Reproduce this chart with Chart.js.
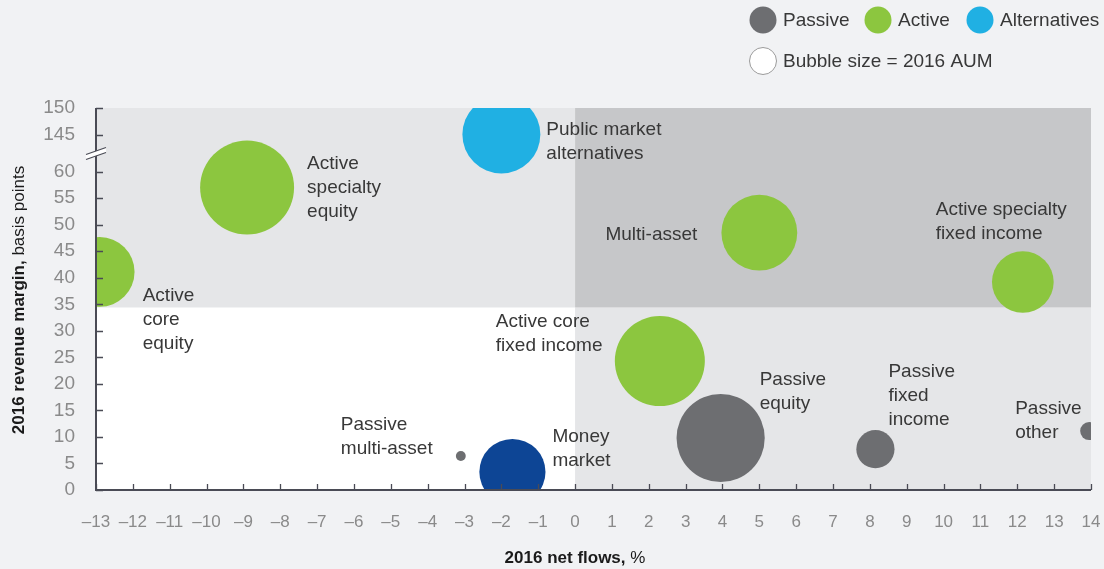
<!DOCTYPE html>
<html>
<head>
<meta charset="utf-8">
<script src="https://cdn.jsdelivr.net/npm/chart.js@4/dist/chart.umd.min.js"></script>
<style>
    html, body { margin: 0; padding: 0; background: #f1f2f4; }
    #wrap { width: 1104px; height: 569px; }
</style>
</head>
<body>
<div id="wrap"><canvas id="chartBolhas"></canvas></div>
<script>
const names = [
    "Active\ncore\nequity",
    "Active\nspecialty\nequity",
    "Public market\nalternatives",
    "Multi-asset",
    "Active specialty\nfixed income",
    "Active core\nfixed income",
    "Passive\nequity",
    "Passive\nfixed\nincome",
    "Passive\nother",
    "Passive\nmulti-asset",
    "Money\nmarket",
];
const groups = ["Active", "Active", "Alternatives", "Active", "Active", "Active", "Passive", "Passive", "Passive", "Passive", "Money"];
const netFlows = [-12.9, -8.9, -2.0, 5.0, 12.15, 2.3, 3.95, 8.15, 13.95, -3.1, -1.7];
const margins = [41.1, 57.0, 145.0, 48.5, 39.2, 24.3, 9.8, 7.7, 11.1, 6.4, 3.4];
const aum = [60, 109, 75, 71, 47, 100, 96, 18, 4, 1.2, 54];

const xTicks = [-13, -12, -11, -10, -9, -8, -7, -6, -5, -4, -3, -2, -1, 0, 1, 2, 3, 4, 5, 6, 7, 8, 9, 10, 11, 12, 13, 14];
const yTicks = [0, 5, 10, 15, 20, 25, 30, 35, 40, 45, 50, 55, 60, 145, 150];
const avgMargin = 34.4;

// broken axis: 60 -> 145 gap squeezed
const toAxis = v => v > 100 ? v - 145 + 67 : v;
const fromAxis = v => v > 62 ? v - 67 + 145 : v;

const colors = {
    Passive: "#6d6e71",
    Active: "#8cc63f",
    Alternatives: "#20b0e3",
    Money: "#0d4595",
};

// label anchor offsets in px from bubble center (first line, left edge)
const labelPos = [
    [43, 24, "left"], [60, -24, "left"], [45, -5, "left"], [-62, 2, "right"],
    [-87, -72, "left"], [-164, -39, "left"], [39, -58, "left"], [13, -77, "left"],
    [-74, -22, "left"], [-120, -31, "left"], [40, -35, "left"],
];

const points = netFlows.map((x, i) => ({ x: x, y: toAxis(margins[i]), r: 4.5 * Math.sqrt(aum[i]) }));

const fonte = "Liberation Sans, Arial, sans-serif";

const fundo = {
    id: "fundo",
    beforeDatasetsDraw(chart) {
        const { ctx, chartArea: a, scales } = chart;
        const x0 = scales.x.getPixelForValue(0);
        const ym = scales.y.getPixelForValue(avgMargin);
        ctx.save();
        ctx.fillStyle = "#ffffff";
        ctx.fillRect(a.left, a.top, a.right - a.left, a.bottom - a.top);
        ctx.fillStyle = "#e5e6e8";
        ctx.fillRect(a.left, a.top, x0 - a.left, ym - a.top);
        ctx.fillRect(x0, ym, a.right - x0, a.bottom - ym);
        ctx.fillStyle = "#c6c7c9";
        ctx.fillRect(x0, a.top, a.right - x0, ym - a.top);
        ctx.restore();
    },
};

const extras = {
    id: "extras",
    afterDraw(chart) {
        const { ctx, chartArea: a, scales } = chart;
        ctx.save();
        // axes
        ctx.strokeStyle = "#4a4b55";
        ctx.lineWidth = 2;
        ctx.beginPath();
        ctx.moveTo(a.left, a.top);
        ctx.lineTo(a.left, a.bottom);
        ctx.lineTo(a.right, a.bottom);
        ctx.stroke();
        ctx.lineWidth = 1.3;
        ctx.beginPath();
        xTicks.forEach(t => {
            const px = Math.round(scales.x.getPixelForValue(t)) + 0.5;
            ctx.moveTo(px, a.bottom);
            ctx.lineTo(px, a.bottom - 6);
        });
        yTicks.forEach(t => {
            const py = Math.round(scales.y.getPixelForValue(toAxis(t))) + 0.5;
            ctx.moveTo(a.left, py);
            ctx.lineTo(a.left + 7, py);
        });
        ctx.stroke();

        // axis break
        const yb = scales.y.getPixelForValue(64);
        ctx.fillStyle = "#ffffff";
        ctx.beginPath();
        ctx.moveTo(a.left - 10, yb + 4);
        ctx.lineTo(a.left + 10, yb - 3);
        ctx.lineTo(a.left + 10, yb + 2);
        ctx.lineTo(a.left - 10, yb + 9);
        ctx.closePath();
        ctx.fill();
        ctx.strokeStyle = "#4a4b55";
        ctx.lineWidth = 1.2;
        ctx.beginPath();
        ctx.moveTo(a.left - 10, yb + 4);
        ctx.lineTo(a.left + 10, yb - 3);
        ctx.moveTo(a.left - 10, yb + 9);
        ctx.lineTo(a.left + 10, yb + 2);
        ctx.stroke();

        // bubble labels
        ctx.font = "19px " + fonte;
        ctx.fillStyle = "#383838";
        ctx.textBaseline = "middle";
        const meta = chart.getDatasetMeta(0);
        names.forEach((n, i) => {
            const el = meta.data[i];
            const [dx, dy, al] = labelPos[i];
            ctx.textAlign = al;
            n.split("\n").forEach((linha, k) => {
                ctx.fillText(linha, el.x + dx, el.y + dy + k * 24);
            });
        });

        // legend
        const leg = [["Passive", colors.Passive, 763], ["Active", colors.Active, 878], ["Alternatives", colors.Alternatives, 980]];
        ctx.textAlign = "left";
        leg.forEach(([t, c, cx]) => {
            ctx.fillStyle = c;
            ctx.beginPath();
            ctx.arc(cx, 20, 13.5, 0, Math.PI * 2);
            ctx.fill();
            ctx.fillStyle = "#383838";
            ctx.fillText(t, cx + 20, 21);
        });
        ctx.fillStyle = "#ffffff";
        ctx.strokeStyle = "#9a9a9a";
        ctx.lineWidth = 1;
        ctx.beginPath();
        ctx.arc(763, 61, 13.5, 0, Math.PI * 2);
        ctx.fill();
        ctx.stroke();
        ctx.fillStyle = "#383838";
        ctx.fillText("Bubble size = 2016 AUM", 783, 62);

        // axis titles
        ctx.fillStyle = "#1a1a1a";
        ctx.textBaseline = "middle";
        const tituloX = [["2016 net flows,", "bold 17px "], [" %", "17px "]];
        let w = 0;
        tituloX.forEach(([t, f]) => { ctx.font = f + fonte; w += ctx.measureText(t).width; });
        let xx = 575 - w / 2;
        tituloX.forEach(([t, f]) => {
            ctx.font = f + fonte;
            ctx.fillText(t, xx, 558);
            xx += ctx.measureText(t).width;
        });

        ctx.translate(19, 300);
        ctx.rotate(-Math.PI / 2);
        const tituloY = [["2016 revenue margin,", "bold 17px "], [" basis points", "17px "]];
        w = 0;
        tituloY.forEach(([t, f]) => { ctx.font = f + fonte; w += ctx.measureText(t).width; });
        xx = -w / 2;
        tituloY.forEach(([t, f]) => {
            ctx.font = f + fonte;
            ctx.fillText(t, xx, 0);
            xx += ctx.measureText(t).width;
        });
        ctx.restore();
    },
};

new Chart(document.getElementById("chartBolhas"), {
    type: "bubble",
    data: {
        datasets: [{
            label: "2016",
            data: points,
            backgroundColor: groups.map(g => colors[g]),
            borderWidth: 0,
            hoverBorderWidth: 0,
        }],
    },
    options: {
        responsive: true,
        maintainAspectRatio: false,
        animation: false,
        events: [],
        layout: { autoPadding: false, padding: { top: 108, right: 13, left: 0, bottom: 0 } },
        plugins: {
            legend: { display: false },
            tooltip: { enabled: false },
        },
        scales: {
            x: {
                type: "linear",
                min: -13,
                max: 14,
                afterBuildTicks: s => { s.ticks = xTicks.map(v => ({ value: v })); },
                afterFit: s => { s.height = 79; s.paddingLeft = 0; s.paddingRight = 0; },
                border: { display: false },
                grid: { display: false, drawTicks: false },
                ticks: {
                    autoSkip: false,
                    maxRotation: 0,
                    padding: 22,
                    color: "#8a8a8a",
                    font: { family: fonte, size: 17 },
                    callback: v => (v < 0 ? "\u2013" + Math.abs(v) : String(v)),
                },
            },
            y: {
                type: "linear",
                min: 0,
                max: 72,
                afterBuildTicks: s => { s.ticks = yTicks.map(v => ({ value: toAxis(v) })); },
                afterFit: s => { s.width = 96; s.paddingTop = 0; s.paddingBottom = 0; },
                border: { display: false },
                grid: { display: false, drawTicks: false },
                ticks: {
                    autoSkip: false,
                    padding: 21,
                    color: "#8a8a8a",
                    font: { family: fonte, size: 19 },
                    callback: v => String(Math.round(fromAxis(v))),
                },
            },
        },
    },
    plugins: [fundo, extras],
});
</script>
</body>
</html>
